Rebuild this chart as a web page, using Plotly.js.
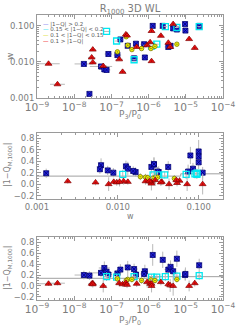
<!DOCTYPE html>
<html>
<head>
<meta charset="utf-8">
<script src="https://cdn.plot.ly/plotly-3.0.1.min.js"></script>
<style>html,body{margin:0;padding:0;background:#fff;}#chart{width:249px;height:332px;}</style>
</head>
<body>
<div id="chart"></div>
<script>
// ---- data ----
// |1-Q| > 0.2 (blue)
var pBlue = [2.57e-8, 1.82e-8, 5.25e-8, 6.46e-8, 7.41e-8, 8.3e-8, 1.45e-7, 1.74e-7, 4.07e-7, 7.94e-7, 4.57e-7, 7.59e-7, 2.75e-7, 1.29e-6, 2.4e-6, 3.39e-6, 3.89e-6, 4.57e-6, 5.75e-6, 9.55e-6, 9.77e-6, 2.29e-5];
var wBlue = [0.0013, 0.0088, 0.0075, 0.0062, 0.0060, 0.0166, 0.0155, 0.042, 0.0126, 0.0133, 0.032, 0.031, 0.028, 0.100, 0.100, 0.026, 0.028, 0.085, 0.079, 0.112, 0.074, 0.100];
var qBlue = [0.19, 0.20, 0.24, 0.33, 0.26, 0.21, 0.23, 0.30, 0.31, 0.27, 0.21, 0.22, 0.34, 0.57, 0.48, 0.30, 0.35, 0.27, 0.50, 0.20, 0.22, 0.38];
var peBlue = [0.05, 0.25, 0.3, 0.15, 0.1, 0.1, 0.1, 0.05, 0.1, 0.08, 0.05, 0.1, 0.05, 0.05, 0.05, 0.1, 0.05, 0.05, 0.05, 0.05, 0.05, 0.05];
var qeBlue = [0.08, 0.08, 0.08, 0.12, 0.08, 0.08, 0.08, 0.10, 0.10, 0.12, 0.10, 0.08, 0.12, 0.20, 0.15, 0.12, 0.12, 0.10, 0.15, 0.10, 0.12, 0.12];
// 0.15 < |1-Q| < 0.2 (cyan)
var pCyan = [7.41e-8, 1.38e-7, 4.07e-7, 1.66e-6, 2.82e-6, 5.75e-6, 2.29e-5, 1.2e-6];
var wCyan = [0.070, 0.038, 0.0115, 0.031, 0.095, 0.090, 0.095, 0.0273];
var qCyan = [0.17, 0.16, 0.17, 0.16, 0.17, 0.18, 0.19, 0.16];
var peCyan = [0.1, 0.05, 0.05, 0.05, 0.05, 0.05, 0.05, 0.05];
var qeCyan = [0.08, 0.06, 0.08, 0.06, 0.08, 0.08, 0.08, 0.06];
// 0.1 < |1-Q| < 0.15 (yellow)
var pYel = [1.45e-7, 2.75e-7, 3.55e-7, 6.46e-7, 1.15e-6, 1.48e-6, 5.75e-6, 2.5e-7];
var wYel = [0.019, 0.029, 0.022, 0.0235, 0.0235, 0.027, 0.031, 0.050];
var qYel = [0.13, 0.12, 0.12, 0.10, 0.11, 0.10, 0.12, 0.10];
var peYel = [0.05, 0.05, 0.05, 0.05, 0.05, 0.05, 0.05, 0.05];
var qeYel = [0.06, 0.10, 0.06, 0.06, 0.06, 0.06, 0.06, 0.06];
// 0.1 > |1-Q| (red)
var pRed = [2.04e-9, 3.55e-9, 3.16e-8, 2.95e-8, 3.16e-8, 6.03e-8, 1.62e-7, 2.0e-7, 2.45e-7, 2.63e-7, 4.79e-7, 9.12e-7, 1.1e-6, 1.2e-6, 1.2e-6, 2.14e-6, 3.39e-6, 3.8e-6, 4.57e-6, 1.23e-5, 1.74e-5];
var wRed = [0.0089, 0.0024, 0.022, 0.0133, 0.0097, 0.0077, 0.0118, 0.0053, 0.058, 0.054, 0.026, 0.029, 0.035, 0.0105, 0.072, 0.053, 0.034, 0.026, 0.112, 0.043, 0.0245];
var qRed = [0.04, 0.05, 0.05, 0.04, 0.03, 0.00, 0.05, 0.03, 0.06, 0.02, 0.04, 0.07, 0.04, 0.04, 0.00, 0.07, 0.03, 0.01, 0.00, 0.00, 0.05];
var peRed = [0.3, 0.2, 0.08, 0.1, 0.1, 0.1, 0.1, 0.08, 0.05, 0.05, 0.05, 0.1, 0.05, 0.05, 0.05, 0.05, 0.05, 0.05, 0.05, 0.05, 0.05];
var qeRed = [0.04, 0.04, 0.06, 0.05, 0.06, 0.12, 0.06, 0.05, 0.06, 0.06, 0.06, 0.10, 0.06, 0.08, 0.12, 0.06, 0.06, 0.12, 0.18, 0.10, 0.06];
// reference lines
var lineWmid = [0.001, 0.06, 0.06, 0.2];
var lineQmid = [0.14, 0.14, 0.18, 0.18];
var linePbot = [1e-9, 1e-6, 1e-6, 1e-4];
var lineQbot = [0.14, 0.14, 0.17, 0.17];
var legendLabels = ['|1\u2212Q| > 0.2', '0.15 < |1\u2212Q| < 0.2', '0.1 < |1\u2212Q| < 0.15', '0.1 > |1\u2212Q|'];

// ---- styles ----
var groups = [
  {p: pBlue, w: wBlue, q: qBlue, pe: peBlue, qe: qeBlue, color: '#6f6ff0',
   marker: {symbol: 'square-x', size: 5, color: '#2424e0', line: {color: '#000070', width: 0.8}}},
  {p: pCyan, w: wCyan, q: qCyan, pe: peCyan, qe: qeCyan, color: '#00e0f0',
   marker: {symbol: 'square-open', size: 6, color: '#00e8f0', line: {color: '#00e8f0', width: 1.3}}},
  {p: pYel, w: wYel, q: qYel, pe: peYel, qe: qeYel, color: '#d8d800',
   marker: {symbol: 'circle-dot', size: 4.5, color: '#f2f200', line: {color: '#7a7a00', width: 0.8}}},
  {p: pRed, w: wRed, q: qRed, pe: peRed, qe: qeRed, color: '#ee0000',
   marker: {symbol: 'triangle-up-dot', size: 6, color: '#ee1010', line: {color: '#800000', width: 0.7}}}
];
var errCol = '#b8b8b8';
function pErrs(p, pe) {
  return {
    plus: p.map(function (v, i) { return v * (Math.pow(10, pe[i]) - 1); }),
    minus: p.map(function (v, i) { return v * (1 - Math.pow(10, -pe[i])); })
  };
}
var traces = [];
traces.push({x: lineWmid, y: lineQmid, xaxis: 'x2', yaxis: 'y2', mode: 'lines', line: {color: '#a0a0a0', width: 1}, hoverinfo: 'skip'});
traces.push({x: linePbot, y: lineQbot, xaxis: 'x3', yaxis: 'y3', mode: 'lines', line: {color: '#a0a0a0', width: 1}, hoverinfo: 'skip'});
groups.forEach(function (g) {
  var pe = pErrs(g.p, g.pe);
  traces.push({x: g.p, y: g.w, xaxis: 'x', yaxis: 'y', mode: 'markers', marker: g.marker,
    error_x: {type: 'data', symmetric: false, array: pe.plus, arrayminus: pe.minus, color: errCol, thickness: 1, width: 0}});
  traces.push({x: g.w, y: g.q, xaxis: 'x2', yaxis: 'y2', mode: 'markers', marker: g.marker,
    error_y: {type: 'data', array: g.qe, color: errCol, thickness: 1, width: 0}});
  traces.push({x: g.p, y: g.q, xaxis: 'x3', yaxis: 'y3', mode: 'markers', marker: g.marker,
    error_x: {type: 'data', symmetric: false, array: pe.plus, arrayminus: pe.minus, color: errCol, thickness: 1, width: 0},
    error_y: {type: 'data', array: g.qe, color: errCol, thickness: 1, width: 0}});
});

var W = 249, H = 332;
var fx0 = 37 / W, fx1 = 223 / W;
function yd(top, bot) { return [1 - bot / H, 1 - top / H]; }
var axCol = '#9a9a9a', txtCol = '#7c7c7c';
var tfont = {family: 'DejaVu Sans, sans-serif', size: 8.5, color: txtCol};
function baseAx(extra) {
  var a = {showline: true, linecolor: axCol, linewidth: 1, mirror: 'ticks', ticks: 'inside', ticklen: 4,
    tickcolor: axCol, showgrid: false, zeroline: false, tickfont: tfont, fixedrange: true};
  for (var k in extra) a[k] = extra[k];
  return a;
}
var logP = {type: 'log', range: [-9, -4], dtick: 1, exponentformat: 'power',
  minor: {ticks: 'inside', ticklen: 2, tickcolor: axCol, dtick: 'D1'}};
var qAx = {range: [-0.25, 0.9], tickvals: [-0.2, 0, 0.2, 0.4, 0.6, 0.8], tickformat: '.1f',
  minor: {ticks: 'inside', ticklen: 2, tickcolor: axCol, dtick: 0.05, tick0: 0}};

var layout = {
  width: W, height: H, margin: {l: 0, r: 0, t: 0, b: 0}, showlegend: false,
  paper_bgcolor: '#fff', plot_bgcolor: '#fff',
  font: {family: 'DejaVu Sans, sans-serif', color: txtCol},
  title: {text: 'R<sub>1000</sub> 3D WL', x: 130 / W, xanchor: 'center', y: 1 - 8 / H, yanchor: 'middle',
    font: {family: 'DejaVu Sans, sans-serif', size: 10, color: txtCol}},
  xaxis: baseAx(Object.assign({domain: [fx0, fx1], anchor: 'y'}, logP)),
  yaxis: baseAx({domain: yd(15, 98), anchor: 'x', type: 'log', range: [-3, Math.log10(0.2)], dtick: 1, tickformat: '.3f',
    minor: {ticks: 'inside', ticklen: 2, tickcolor: axCol, dtick: 'D1'}}),
  xaxis2: baseAx({domain: [fx0, fx1], anchor: 'y2', type: 'log', range: [-3, Math.log10(0.2)], dtick: 1, tickformat: '.3f',
    minor: {ticks: 'inside', ticklen: 2, tickcolor: axCol, dtick: 'D1'}}),
  yaxis2: baseAx(Object.assign({domain: yd(132.5, 198.5), anchor: 'x2'}, qAx)),
  xaxis3: baseAx(Object.assign({domain: [fx0, fx1], anchor: 'y3'}, logP)),
  yaxis3: baseAx(Object.assign({domain: yd(237, 299.5), anchor: 'x3'}, qAx)),
  annotations: []
};
function ann(text, x, y, opts) {
  var a = {text: text, x: x / W, y: 1 - y / H, xref: 'paper', yref: 'paper', showarrow: false,
    xanchor: 'center', yanchor: 'middle', font: {family: 'DejaVu Sans, sans-serif', size: 9, color: txtCol}};
  for (var k in opts) a[k] = opts[k];
  layout.annotations.push(a);
}
var pLabel = 'P<sub>3</sub>/P<sub>0</sub>';
ann(pLabel, 130, 115);
ann('w', 130, 216, {font: {family: 'DejaVu Sans, sans-serif', size: 8, color: txtCol}});
ann(pLabel, 130, 320);
ann('w', 10, 57, {textangle: -90});
ann('|1\u2212Q<sub>M,1000</sub>|', 8, 165, {textangle: -90, font: {family: 'DejaVu Sans, sans-serif', size: 8, color: txtCol}});
ann('|1\u2212Q<sub>M,1000</sub>|', 8, 268, {textangle: -90, font: {family: 'DejaVu Sans, sans-serif', size: 8, color: txtCol}});
var legYs = [24, 29.8, 35.6, 41.4];
legendLabels.forEach(function (t, i) {
  ann('<span style="color:' + groups[i].color + '">\u2014</span> ' + t, 42, legYs[i],
    {xanchor: 'left', yanchor: 'middle', borderpad: 0, font: {family: 'DejaVu Sans, sans-serif', size: 5.5, color: '#555'}});
});

Plotly.newPlot('chart', traces, layout, {staticPlot: true, displayModeBar: false});
</script>
</body>
</html>
